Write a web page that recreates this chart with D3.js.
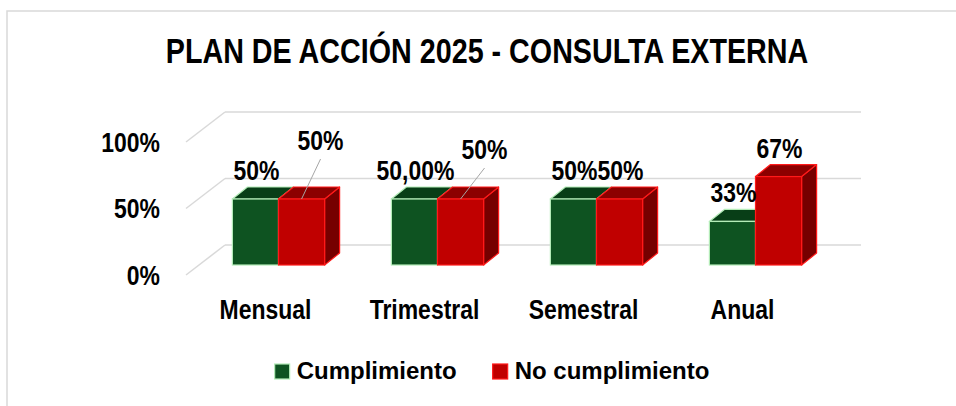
<!DOCTYPE html>
<html>
<head>
<meta charset="utf-8">
<script src="https://cdn.jsdelivr.net/npm/d3@7"></script>
<style>
  body { margin: 0; background: #fff; }
  svg { display: block; }
  .narrow { font-family: "Liberation Sans", Arial, sans-serif; font-weight: bold; }
  .wide { font-family: "Liberation Sans", Arial, sans-serif; font-weight: bold; }
</style>
</head>
<body>
<div id="chart"></div>
<script>
const categories = ["Mensual", "Trimestral", "Semestral", "Anual"];
const series = ["Cumplimiento", "No cumplimiento"];
const cumplimiento = [0.50, 0.50, 0.50, 0.33];
const noCumplimiento = [0.50, 0.50, 0.50, 0.67];
// etiquetas tal como salen en la imagen
const cumplimientoLabels = ["50%", "50,00%", "50%", "33%"];
const noCumplimientoLabels = ["50%", "50%", "50%", "67%"];
const yTicks = [0, 0.5, 1];
const yTickLabels = ["0%", "50%", "100%"];

// etiquetas movidas a mano (con linea guia)
const labelNudge = {
    "Mensual|No cumplimiento": [18, -30],
    "Trimestral|No cumplimiento": [23, -21]
};

const colors = {
    "Cumplimiento": { front: "#0e5321", top: "#083e17", side: "#06300f", edge: "#b4ecb8" },
    "No cumplimiento": { front: "#c00000", top: "#8c0000", side: "#760000", edge: "#ff1a1a" }
};

const W = 956, H = 406;
const NARROW = 0.82; // fuente estrecha tipo Arial Narrow

const rows = categories.map((c, i) => ({
    cat: c,
    vals: [
        { s: series[0], v: cumplimiento[i], label: cumplimientoLabels[i] },
        { s: series[1], v: noCumplimiento[i], label: noCumplimientoLabels[i] }
    ]
}));

const svg = d3.select("#chart").append("svg")
    .attr("width", W)
    .attr("height", H);

// texto estrecho: se comprime en horizontal
function narrowText(sel, x, y, size, anchor) {
    return sel.append("text")
        .attr("class", "narrow")
        .attr("transform", `translate(${x},${y}) scale(${NARROW},1)`)
        .attr("text-anchor", anchor || "middle")
        .attr("font-size", size)
        .attr("fill", "#000");
}

// marco del grafico
svg.append("rect")
    .attr("x", 7).attr("y", 11)
    .attr("width", W + 10).attr("height", H + 10)
    .attr("fill", "#fff")
    .attr("stroke", "#d9d9d9")
    .attr("stroke-width", 1.5);

// titulo
narrowText(svg, 487, 63, 35).text("PLAN DE ACCIÓN 2025 - CONSULTA EXTERNA");

// pared del fondo y piso (3D)
const wallX0 = 225, wallX1 = 861;
const depthX = -39, depthY = 30;
const yBack = d3.scaleLinear().domain([0, 1]).range([245, 112]);

const grid = svg.append("g");
grid.selectAll("line.h")
    .data(yTicks)
    .join("line")
    .attr("class", "h")
    .attr("x1", wallX0).attr("x2", wallX1)
    .attr("y1", d => yBack(d)).attr("y2", d => yBack(d))
    .attr("stroke", "#d9d9d9").attr("stroke-width", 1.5);
grid.selectAll("line.d")
    .data(yTicks)
    .join("line")
    .attr("class", "d")
    .attr("x1", wallX0).attr("y1", d => yBack(d))
    .attr("x2", wallX0 + depthX).attr("y2", d => yBack(d) + depthY)
    .attr("stroke", "#d9d9d9").attr("stroke-width", 1.5);

const yAxis = svg.append("g");
yTicks.forEach((t, i) => {
    narrowText(yAxis, 160, yBack(t) + depthY + 9.5, 28, "end").text(yTickLabels[i]);
});

// barras: plano frontal
const x = d3.scaleBand()
    .domain(categories)
    .range([199, 835])
    .paddingInner(0.42)
    .paddingOuter(0.21);
const xs = d3.scaleBand()
    .domain(series)
    .range([0, x.bandwidth()]);
const yFront = d3.scaleLinear().domain([0, 1]).range([265, 133]);
const bdx = 15, bdy = -12;

const xFloor = d3.scaleBand()
    .domain(categories)
    .range([wallX0 + depthX, wallX1 + depthX])
    .paddingInner(0.42)
    .paddingOuter(0.21);

const bars = svg.append("g");
rows.forEach(r => {
    r.vals.forEach(d => {
        const c = colors[d.s];
        const x0 = x(r.cat) + xs(d.s), x1 = x0 + xs.bandwidth();
        const y0 = yFront(0), y1 = yFront(d.v);
        const g = bars.append("g");
        g.append("polygon")
            .attr("points", [[x1, y0], [x1 + bdx, y0 + bdy], [x1 + bdx, y1 + bdy], [x1, y1]].join(" "))
            .attr("fill", c.side).attr("stroke", c.edge).attr("stroke-width", 1.2)
            .attr("stroke-linejoin", "round");
        g.append("polygon")
            .attr("points", [[x0, y1], [x0 + bdx, y1 + bdy], [x1 + bdx, y1 + bdy], [x1, y1]].join(" "))
            .attr("fill", c.top).attr("stroke", c.edge).attr("stroke-width", 1.2)
            .attr("stroke-linejoin", "round");
        g.append("rect")
            .attr("x", x0).attr("y", y1)
            .attr("width", x1 - x0).attr("height", y0 - y1)
            .attr("fill", c.front).attr("stroke", c.edge).attr("stroke-width", 1.2);
    });
});

// etiquetas de datos
const labels = svg.append("g");
rows.forEach(r => {
    r.vals.forEach(d => {
        const cx = x(r.cat) + xs(d.s) + xs.bandwidth() / 2;
        const topY = yFront(d.v);
        let lx = cx + 1, ly = topY + bdy - 7;
        const nudge = labelNudge[r.cat + "|" + d.s];
        if (nudge) {
            lx += nudge[0];
            ly += nudge[1];
            labels.append("line")
                .attr("x1", lx).attr("y1", ly + 9)
                .attr("x2", cx).attr("y2", topY)
                .attr("stroke", "#a6a6a6").attr("stroke-width", 1);
        }
        narrowText(labels, lx, ly, 28).text(d.label);
    });
});

// categorias
const xAxis = svg.append("g");
categories.forEach(c => {
    narrowText(xAxis, xFloor(c) + xFloor.bandwidth() / 2, 319, 28).text(c);
});

// leyenda
const legend = svg.append("g");
const items = legend.selectAll("g")
    .data(series)
    .join("g");
items.append("rect")
    .attr("width", 15).attr("height", 15)
    .attr("y", -15)
    .attr("fill", d => colors[d].front)
    .attr("stroke", d => colors[d].edge)
    .attr("stroke-width", 1.2);
items.append("text")
    .attr("class", "wide")
    .attr("x", 22)
    .attr("font-size", 24)
    .text(d => d);
let lxPos = 0;
items.each(function () {
    d3.select(this).attr("transform", `translate(${lxPos},0)`);
    lxPos += this.getBBox().width + 36;
});
const legendW = lxPos - 36;
legend.attr("transform", `translate(${492 - legendW / 2},379)`);
</script>
</body>
</html>
